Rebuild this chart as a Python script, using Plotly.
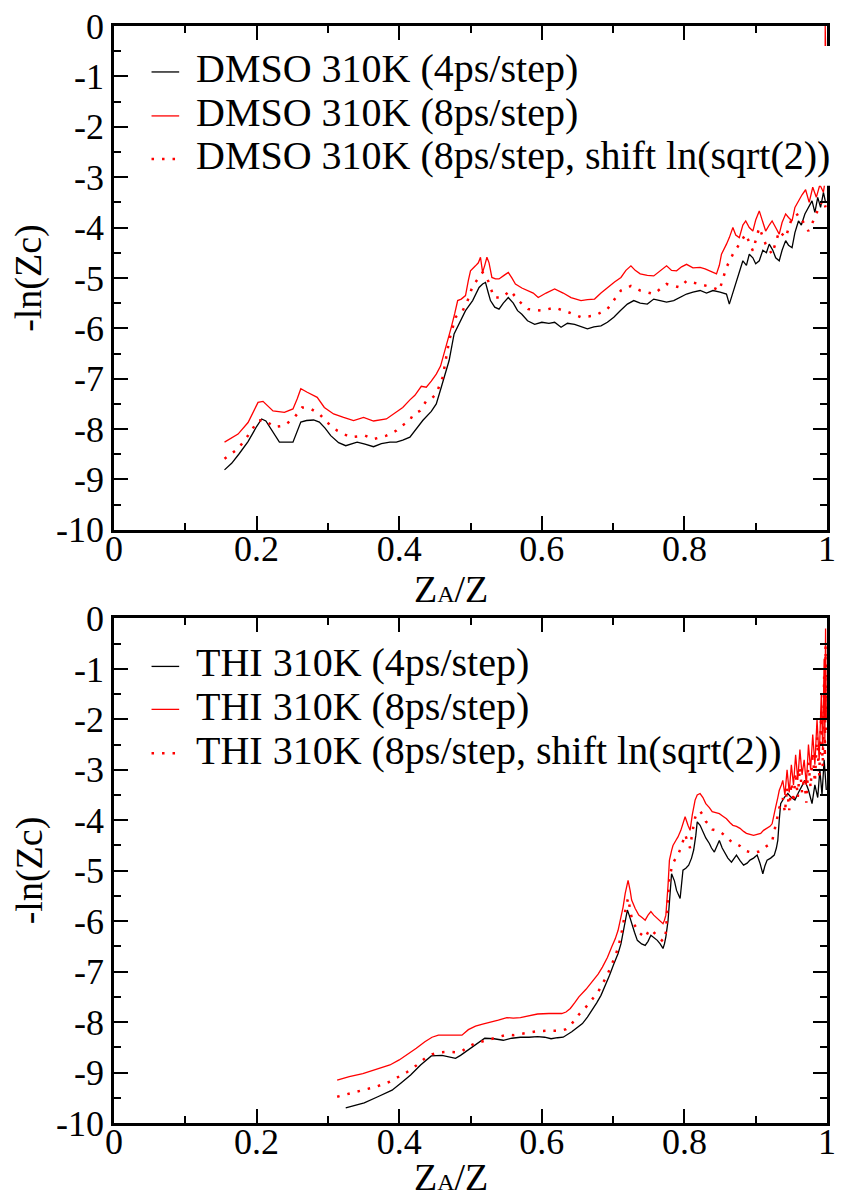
import plotly.graph_objects as go

# ---------------- DATA ----------------
# Top panel: DMSO 310K
dmso4_x = [.155,.165,.175,.188,.200,.207,.213,.222,.232,.251,.262,.270,.280,.288,.296,.304,.315,.325,.341,.352,
           .364,.375,.387,.396,.405,.415,.425,.433,.445,.452,.459,.465,.470,.477,.484,.493,.503,.508,.512,.517,
           .521,.525,.528,.534,.540,.546,.553,.560,.566,.572,.580,.590,.600,.610,.618,.627,.636,.646,.655,.664,
           .673,.683,.692,.701,.710,.720,.729,.738,.748,.757,.766,.775,.785,.794,.803,.812,.822,.831,.840,.850,
           .859,.863,.868,.872,.877,.882,.887,.891,.896,.900,.905,.910,.915,.919,.924,.928,.933,.937,.942,.946,
           .951,.955,.960,.964,.969,.974,.979,.983,.987,.991,.995,.998]
dmso4_y = [-8.81,-8.68,-8.50,-8.25,-7.95,-7.80,-7.84,-8.05,-8.26,-8.26,-7.86,-7.83,-7.82,-7.86,-7.98,-8.13,-8.27,-8.33,-8.26,-8.30,
           -8.35,-8.29,-8.26,-8.26,-8.22,-8.16,-7.98,-7.83,-7.65,-7.50,-7.17,-6.90,-6.64,-6.11,-5.92,-5.65,-5.45,-5.30,-5.19,-5.12,
           -5.09,-5.30,-5.45,-5.58,-5.62,-5.50,-5.39,-5.50,-5.65,-5.72,-5.85,-5.92,-5.88,-5.90,-5.88,-5.98,-5.90,-5.92,-5.97,-6.01,
           -5.97,-5.95,-5.88,-5.78,-5.65,-5.52,-5.45,-5.50,-5.52,-5.42,-5.45,-5.48,-5.45,-5.38,-5.32,-5.28,-5.25,-5.30,-5.25,-5.28,
           -5.32,-5.52,-5.30,-5.12,-4.90,-4.66,-4.75,-4.53,-4.60,-4.72,-4.66,-4.45,-4.50,-4.33,-4.45,-4.60,-4.66,-4.45,-4.26,-4.35,
           -4.40,-4.10,-3.87,-3.95,-3.73,-3.60,-3.47,-3.70,-3.40,-3.60,-3.30,-3.50]

dmso8_x = [.155,.174,.188,.202,.209,.216,.223,.239,.251,.257,.262,.271,.285,.295,.308,.322,.336,.350,.364,.382,
           .396,.405,.415,.422,.431,.438,.445,.452,.458,.463,.468,.473,.478,.482,.487,.493,.497,.500,.507,.511,
           .514,.517,.520,.523,.526,.530,.535,.540,.547,.553,.558,.563,.572,.581,.588,.595,.606,.618,.630,.641,
           .655,.664,.674,.683,.692,.702,.711,.718,.725,.731,.738,.748,.757,.766,.775,.782,.789,.796,.803,.812,
           .822,.829,.836,.845,.849,.852,.859,.863,.868,.872,.877,.882,.886,.891,.896,.900,.905,.910,.914,.919,
           .923,.928,.933,.937,.942,.946,.951,.955,.960,.965,.970,.975,.980,.985,.990,.995,.997,.9975,.998]
dmso8_y = [-8.26,-8.10,-7.87,-7.47,-7.45,-7.55,-7.64,-7.67,-7.60,-7.40,-7.20,-7.27,-7.37,-7.57,-7.70,-7.77,-7.83,-7.77,-7.84,-7.80,
           -7.67,-7.57,-7.42,-7.33,-7.15,-7.17,-7.05,-6.91,-6.75,-6.51,-6.25,-5.98,-5.70,-5.45,-5.42,-5.35,-5.05,-4.86,-4.76,-4.70,
           -4.59,-4.89,-4.75,-4.59,-4.70,-4.99,-5.02,-5.02,-4.95,-4.89,-5.00,-5.12,-5.20,-5.25,-5.30,-5.39,-5.30,-5.22,-5.30,-5.39,
           -5.45,-5.43,-5.42,-5.30,-5.19,-5.08,-4.99,-4.85,-4.76,-4.85,-4.92,-4.95,-4.96,-4.86,-4.76,-4.85,-4.86,-4.78,-4.73,-4.80,
           -4.79,-4.82,-4.86,-4.92,-4.75,-4.53,-4.33,-4.20,-4.00,-4.15,-4.20,-3.95,-3.87,-4.00,-4.07,-3.85,-3.67,-3.90,-4.07,-3.95,
           -3.87,-4.00,-4.13,-3.90,-3.73,-3.80,-3.87,-3.60,-3.47,-3.35,-3.25,-3.50,-3.20,-3.40,-3.15,-3.30,-3.10,0.00,-0.40]

dmso8s_x = [.155,.174,.188,.202,.211,.225,.239,.253,.264,.276,.288,.299,.313,.331,.352,.364,.382,.396,.401,.415,
            .419,.429,.438,.445,.452,.461,.470,.479,.489,.496,.503,.510,.517,.523,.533,.544,.556,.567,.581,.600,
            .618,.637,.655,.674,.692,.711,.725,.738,.757,.775,.794,.803,.822,.840,.849,.859,.868,.877,.886,.896,
            .905,.914,.923,.933,.942,.951,.960,.974,.983,.990,.995,.998]
dmso8s_y = [-8.59,-8.39,-8.13,-7.83,-7.82,-7.96,-7.93,-7.77,-7.57,-7.60,-7.70,-7.87,-8.03,-8.16,-8.13,-8.20,-8.13,-8.03,-7.96,-7.83,
            -7.72,-7.64,-7.44,-7.40,-7.30,-6.97,-6.25,-5.78,-5.65,-5.45,-5.16,-5.02,-4.89,-4.99,-5.39,-5.39,-5.25,-5.45,-5.62,-5.65,
            -5.59,-5.68,-5.78,-5.75,-5.62,-5.25,-5.16,-5.25,-5.32,-5.12,-5.19,-5.06,-5.12,-5.19,-5.25,-4.79,-4.53,-4.33,-4.13,-4.46,
            -4.00,-4.33,-4.53,-4.07,-4.20,-3.80,-3.73,-4.07,-3.80,-3.55,-3.45,-3.60]

# Bottom panel: THI 310K
thi4_x = [.325,.351,.370,.390,.403,.416,.430,.445,.460,.472,.479,.486,.493,.503,.512,.520,.533,.546,.558,.570,
          .582,.594,.604,.613,.622,.630,.642,.650,.657,.664,.671,.677,.683,.689,.695,.701,.707,.711,.714,.717,
          .720,.723,.726,.730,.734,.740,.745,.749,.753,.757,.762,.766,.770,.772,.774,.777,.779,.782,.786,.789,
          .794,.796,.798,.802,.806,.810,.813,.816,.818,.822,.825,.830,.835,.838,.842,.846,.849,.853,.856,.861,
          .866,.870,.873,.878,.883,.888,.892,.897,.902,.906,.910,.913,.916,.921,.926,.929,.931,.933,.935,.940,
          .945,.950,.955,.960,.964,.969,.974,.979,.983,.987,.990,.993,.996,.999]
thi4_y = [-9.70,-9.60,-9.48,-9.35,-9.20,-9.05,-8.85,-8.67,-8.66,-8.70,-8.72,-8.66,-8.59,-8.48,-8.40,-8.32,-8.33,-8.36,-8.32,-8.30,
          -8.30,-8.29,-8.30,-8.33,-8.31,-8.30,-8.19,-8.10,-8.03,-7.90,-7.76,-7.62,-7.47,-7.28,-7.07,-6.85,-6.64,-6.45,-6.24,-6.00,
          -5.78,-5.90,-6.05,-6.22,-6.38,-6.45,-6.48,-6.40,-6.28,-6.32,-6.38,-6.45,-6.54,-6.45,-6.31,-6.00,-5.65,-5.06,-5.20,-5.39,
          -5.55,-5.25,-4.99,-4.95,-4.89,-4.75,-4.59,-4.30,-4.03,-4.10,-4.20,-4.35,-4.46,-4.55,-4.63,-4.50,-4.40,-4.55,-4.63,-4.75,
          -4.83,-4.75,-4.69,-4.80,-4.89,-4.85,-4.79,-4.75,-4.69,-4.85,-5.06,-4.90,-4.79,-4.75,-4.69,-4.55,-4.40,-4.00,-3.67,-3.55,
          -3.47,-3.55,-3.60,-3.45,-3.34,-3.21,-3.40,-3.67,-3.30,-3.55,-3.00,-3.50,-2.80,-3.40]

thi8_x = [.313,.330,.349,.368,.387,.400,.411,.424,.436,.446,.455,.470,.480,.488,.497,.507,.517,.527,.539,.551,
          .560,.570,.582,.594,.610,.628,.634,.640,.646,.652,.662,.673,.679,.685,.692,.698,.703,.707,.711,.714,
          .717,.721,.724,.726,.731,.736,.741,.745,.749,.753,.757,.762,.766,.770,.772,.774,.777,.779,.782,.784,
          .788,.791,.795,.798,.801,.805,.808,.811,.815,.818,.822,.826,.830,.835,.839,.844,.849,.854,.859,.864,
          .868,.873,.878,.883,.887,.892,.897,.902,.907,.911,.916,.920,.923,.926,.928,.931,.933,.936,.938,.941,
          .944,.947,.950,.953,.956,.959,.962,.965,.968,.971,.974,.977,.980,.983,.986,.989,.992,.994,.996,.997,
          .998,.999]
thi8_y = [-9.15,-9.08,-9.02,-8.94,-8.85,-8.75,-8.65,-8.52,-8.39,-8.30,-8.26,-8.26,-8.27,-8.26,-8.15,-8.08,-8.04,-8.01,-7.96,-7.91,
          -7.92,-7.91,-7.87,-7.84,-7.83,-7.83,-7.80,-7.73,-7.62,-7.50,-7.35,-7.17,-7.05,-6.91,-6.72,-6.51,-6.35,-6.18,-5.95,-5.72,
          -5.45,-5.19,-5.40,-5.58,-5.75,-5.88,-5.93,-5.98,-5.88,-5.81,-5.88,-5.95,-6.00,-6.05,-5.98,-5.88,-5.30,-4.79,-4.60,-4.50,
          -4.40,-4.33,-4.20,-4.05,-3.93,-4.10,-4.20,-3.90,-3.60,-3.50,-3.47,-3.55,-3.67,-3.75,-3.83,-3.85,-3.87,-3.92,-3.97,-4.05,
          -4.10,-4.12,-4.16,-4.22,-4.26,-4.28,-4.30,-4.28,-4.26,-4.20,-4.16,-4.12,-4.07,-3.90,-3.74,-3.55,-3.41,-3.30,-3.21,-3.50,
          -3.00,-3.45,-2.90,-3.30,-2.70,-3.20,-2.60,-3.10,-2.80,-3.30,-2.50,-3.00,-2.30,-2.90,-2.00,-2.80,-1.50,-2.60,-0.80,-2.40,
          -0.20,-2.00]

thi8s_x = thi8_x
thi8s_y = [-9.48,-9.42,-9.36,-9.28,-9.18,-9.08,-8.99,-8.86,-8.72,-8.64,-8.60,-8.59,-8.60,-8.58,-8.48,-8.42,-8.38,-8.35,-8.30,-8.25,
           -8.26,-8.24,-8.21,-8.18,-8.17,-8.17,-8.14,-8.07,-7.96,-7.85,-7.70,-7.52,-7.40,-7.25,-7.06,-6.86,-6.70,-6.52,-6.30,-6.07,
           -5.80,-5.54,-5.75,-5.93,-6.10,-6.22,-6.28,-6.33,-6.22,-6.16,-6.22,-6.30,-6.35,-6.40,-6.33,-6.22,-5.65,-5.14,-4.95,-4.85,
           -4.75,-4.68,-4.55,-4.40,-4.28,-4.45,-4.55,-4.25,-3.95,-3.85,-3.82,-3.90,-4.02,-4.10,-4.18,-4.20,-4.22,-4.27,-4.32,-4.40,
           -4.45,-4.47,-4.51,-4.57,-4.61,-4.63,-4.65,-4.63,-4.61,-4.55,-4.51,-4.47,-4.42,-4.25,-4.09,-3.90,-3.76,-3.65,-3.56,-3.85,
           -3.35,-3.80,-3.25,-3.65,-3.05,-3.55,-2.95,-3.45,-3.15,-3.65,-2.85,-3.35,-2.65,-3.25,-2.35,-3.15,-1.85,-2.95,-1.15,-2.75,
           -0.55,-2.35]

legend_top = ["DMSO 310K (4ps/step)", "DMSO 310K (8ps/step)", "DMSO 310K (8ps/step, shift ln(sqrt(2))"]
legend_bot = ["THI 310K (4ps/step)", "THI 310K (8ps/step)", "THI 310K (8ps/step, shift ln(sqrt(2))"]

x_tickvals = [0, 0.2, 0.4, 0.6, 0.8, 1]
x_ticktext = ["0", "0.2", "0.4", "0.6", "0.8", "1"]
y_tickvals = [0, -1, -2, -3, -4, -5, -6, -7, -8, -9, -10]
y_ticktext = ["0", "-1", "-2", "-3", "-4", "-5", "-6", "-7", "-8", "-9", "-10"]

# ---------------- FIGURE ----------------
FONT = "Liberation Serif, Times New Roman, serif"
W, H = 843, 1200
ML, MR, MT, MB = 114, 7, 25, 77
PW, PH = W - ML - MR, H - MT - MB

def px_x(p):
    return (p - ML) / PW

def px_y(p):
    return (H - MB - p) / PH

BLACK_W = 1.3
styles = [dict(color="black", width=BLACK_W),
          dict(color="red", width=BLACK_W),
          dict(color="red", width=2.5, dash="2.5px,8px")]

fig = go.Figure()
top_series = [(dmso4_x, dmso4_y), (dmso8_x, dmso8_y), (dmso8s_x, dmso8s_y)]
bot_series = [(thi4_x, thi4_y), (thi8_x, thi8_y), (thi8s_x, thi8s_y)]
for i, (xs, ys) in enumerate(top_series):
    fig.add_trace(go.Scatter(x=xs, y=ys, mode="lines", line=styles[i], name=legend_top[i],
                             showlegend=False, xaxis="x", yaxis="y"))
for i, (xs, ys) in enumerate(bot_series):
    fig.add_trace(go.Scatter(x=xs, y=ys, mode="lines", line=styles[i], name=legend_bot[i],
                             showlegend=False, xaxis="x2", yaxis="y2"))

top_dom = [px_y(529.3), 1.0]
bot_dom = [0.0, px_y(618)]

def xaxis(anchor):
    return dict(domain=[0, 1], anchor=anchor, range=[0, 1], showgrid=False, zeroline=False,
                showline=True, linecolor="black", linewidth=2.5, mirror="ticks",
                ticks="inside", ticklen=14, tickwidth=2, tickcolor="black",
                tickvals=x_tickvals, ticktext=x_ticktext, ticklabelstandoff=-15,
                tickfont=dict(family=FONT, size=36, color="black"),
                minor=dict(ticks="inside", ticklen=7, tickwidth=2, tickcolor="black", dtick=0.1, tick0=0, showgrid=False))

def yaxis(anchor, dom):
    return dict(domain=dom, anchor=anchor, range=[-10, 0], showgrid=False, zeroline=False,
                showline=True, linecolor="black", linewidth=2.5, mirror="ticks",
                ticks="inside", ticklen=14, tickwidth=2, tickcolor="black",
                tickvals=y_tickvals, ticktext=y_ticktext,
                tickfont=dict(family=FONT, size=36, color="black"),
                minor=dict(ticks="inside", ticklen=7, tickwidth=2, tickcolor="black", dtick=0.5, tick0=0, showgrid=False))

fig.update_layout(
    width=W, height=H, margin=dict(l=ML, r=MR, t=MT, b=MB),
    paper_bgcolor="white", plot_bgcolor="white", showlegend=False,
    xaxis=xaxis("y"), yaxis=yaxis("x", top_dom),
    xaxis2=xaxis("y2"), yaxis2=yaxis("x2", bot_dom),
    font=dict(family=FONT, color="black"),
)

shapes = []
annotations = []
# opaque legend box in the top panel
shapes.append(dict(type="rect", xref="paper", yref="paper", x0=px_x(140), x1=px_x(842),
                   y0=px_y(185), y1=px_y(45), fillcolor="white", line=dict(width=0), layer="above"))

for texts, text_y, line_y in [(legend_top, [68, 111.7, 155], [71, 115, 158]),
                              (legend_bot, [662, 706, 750], [666, 709, 753])]:
    for i in range(3):
        st = styles[i]
        shapes.append(dict(type="line", xref="paper", yref="paper", x0=px_x(152), x1=px_x(180),
                           y0=px_y(line_y[i]), y1=px_y(line_y[i]),
                           line=dict(color=st["color"], width=st["width"],
                                     dash=st.get("dash", "solid")), layer="above"))
        annotations.append(dict(text=texts[i], xref="paper", yref="paper", x=px_x(195), y=px_y(text_y[i]),
                                xanchor="left", yanchor="middle", showarrow=False,
                                font=dict(family=FONT, size=40, color="black")))

# axis titles
for cy in [277, 870]:
    annotations.append(dict(text="-ln(Zc)", xref="paper", yref="paper", x=px_x(28), y=px_y(cy),
                            xanchor="center", yanchor="middle", textangle=-90, showarrow=False,
                            font=dict(family=FONT, size=38, color="black")))
for cy in [589, 1177]:
    annotations.append(dict(text="Z<span style='font-size:24px'>A</span>/Z", xref="paper", yref="paper",
                            x=px_x(455), y=px_y(cy), xanchor="center", yanchor="middle", showarrow=False,
                            font=dict(family=FONT, size=38, color="black")))

fig.update_layout(shapes=shapes, annotations=annotations)
fig.write_html("out.html")
